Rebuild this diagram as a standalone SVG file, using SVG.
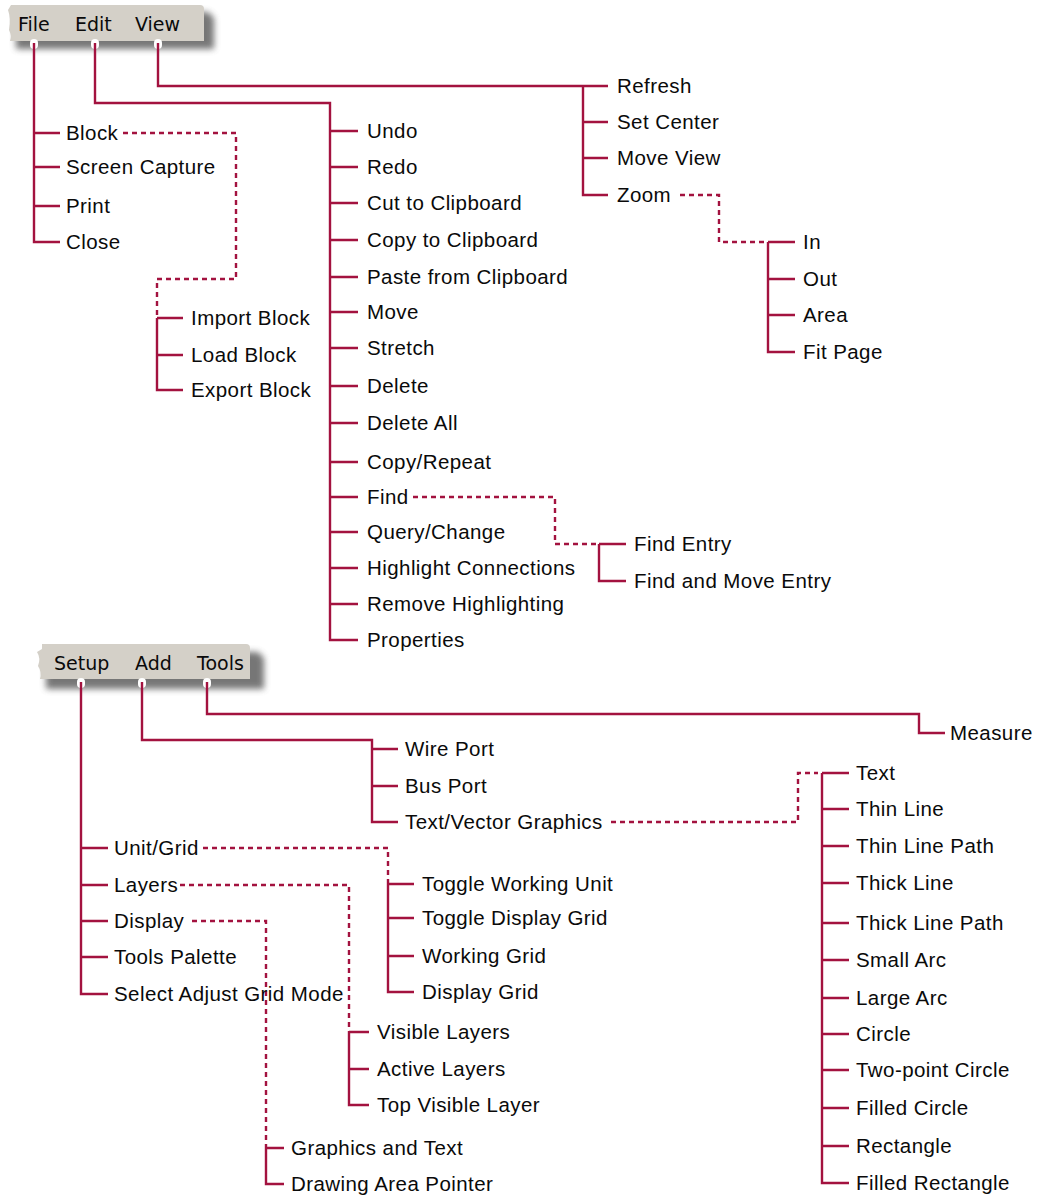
<svg xmlns="http://www.w3.org/2000/svg" width="1042" height="1198" viewBox="0 0 1042 1198">
  <style>
    .lbl { font-family: "Liberation Sans", Arial, sans-serif; font-size: 20.5px; letter-spacing: 0.43px; fill: #0a0a0a; }
    .menu { font-family: "DejaVu Sans", "Liberation Sans", sans-serif; font-size: 19px; fill: #0a0a0a; }
    .bar { fill: #D4D0C8; }
    .ln { fill: none; stroke: #A3123F; stroke-width: 2.4; }
    .dash { fill: none; stroke: #A3123F; stroke-width: 2.4; stroke-dasharray: 5 4; }
    .knob { fill: #fff; }
  </style>
  <defs>
    <filter id="soft" x="-20%" y="-50%" width="140%" height="200%">
      <feGaussianBlur stdDeviation="3"/>
    </filter>
  </defs>
  <rect width="1042" height="1198" fill="#fff"/>

  <!-- menu bar: File / Edit / View -->
  <g id="menu-file-edit-view">
    <path d="M16 12 L208 12 L214 18 L214 49 L16 49 Z" fill="#555" opacity="0.8" filter="url(#soft)"/>
    <path class="bar" d="M11 5 L200 5 Q204 5 204 9 L204 41 L10 41 Q12 36 9 30 Q11 18 8 10 Z"/>
    <text class="menu" x="18" y="31">File</text>
    <text class="menu" x="75" y="31">Edit</text>
    <text class="menu" x="135" y="31">View</text>
  </g>

  <!-- menu bar: Setup / Add / Tools -->
  <g id="menu-setup-add-tools">
    <path d="M46 652 L258 652 L264 658 L264 689 L46 689 Z" fill="#555" opacity="0.8" filter="url(#soft)"/>
    <path class="bar" d="M42 644 L246 644 Q250 644 250 648 L250 679 L40 679 Q42 672 38 666 Q41 658 37 652 L42 649 Z"/>
    <text class="menu" x="54" y="670">Setup</text>
    <text class="menu" x="135" y="670">Add</text>
    <text class="menu" x="197" y="670">Tools</text>
  </g>

  <!-- tree connectors -->
  <g id="connectors">
    <!-- knobs where the lines leave the menu bars -->
    <rect class="knob" x="30" y="39" width="8" height="10" rx="4"/>
    <rect class="knob" x="91" y="39" width="8" height="10" rx="4"/>
    <rect class="knob" x="154" y="39" width="8" height="10" rx="4"/>
    <rect class="knob" x="77" y="678" width="8" height="10" rx="4"/>
    <rect class="knob" x="138" y="678" width="8" height="10" rx="4"/>
    <rect class="knob" x="203" y="678" width="8" height="10" rx="4"/>

    <!-- File -->
    <path class="ln" d="M34 43 V242 H60 M34 133 H60 M34 167 H60 M34 206 H60"/>
    <!-- Block submenu -->
    <path class="dash" d="M123 133 H236 V279 H157 V318"/>
    <path class="ln" d="M157 318 V390 H183 M157 318 H183 M157 355 H183"/>

    <!-- Edit -->
    <path class="ln" d="M95 43 V103 H330 V640 H358"/>
    <path class="ln" d="M330 131 H358 M330 167 H358 M330 203 H358 M330 240 H358 M330 277 H358 M330 312 H358 M330 348 H358 M330 386 H358 M330 423 H358 M330 462 H358 M330 497 H358 M330 532 H358 M330 568 H358 M330 604 H358"/>
    <!-- Find submenu -->
    <path class="dash" d="M413 497 H555 V544 H598"/>
    <path class="ln" d="M599 544 V581 H626 M599 544 H626"/>

    <!-- View -->
    <path class="ln" d="M158 43 V86 H608 M583 86 V195 H608 M583 122 H608 M583 158 H608"/>
    <!-- Zoom submenu -->
    <path class="dash" d="M680 195 H719 V242 H767"/>
    <path class="ln" d="M768 242 V352 H795 M768 242 H795 M768 279 H795 M768 315 H795"/>

    <!-- Tools -->
    <path class="ln" d="M207 682 V714 H919 V733 H945"/>

    <!-- Add -->
    <path class="ln" d="M142 682 V740 H372 V822 H398 M372 749 H398 M372 786 H398"/>
    <!-- Text/Vector Graphics submenu -->
    <path class="dash" d="M611 822 H798 V773 H818"/>
    <path class="ln" d="M822 773 V1183 H849 M822 773 H849 M822 809 H849 M822 846 H849 M822 883 H849 M822 923 H849 M822 960 H849 M822 998 H849 M822 1034 H849 M822 1070 H849 M822 1108 H849 M822 1146 H849"/>

    <!-- Setup -->
    <path class="ln" d="M81 682 V994 H108 M81 848 H108 M81 885 H108 M81 921 H108 M81 957 H108"/>
    <!-- Unit/Grid submenu -->
    <path class="dash" d="M203 848 H388 V884"/>
    <path class="ln" d="M388 884 V992 H414 M388 884 H414 M388 918 H414 M388 956 H414"/>
    <!-- Layers submenu -->
    <path class="dash" d="M180 885 H349 V1032"/>
    <path class="ln" d="M349 1032 V1105 H369 M349 1032 H369 M349 1069 H369"/>
    <!-- Display submenu -->
    <path class="dash" d="M192 921 H266 V1148"/>
    <path class="ln" d="M266 1148 V1184 H284 M266 1148 H284"/>
  </g>

  <!-- File items -->
  <g id="file-block"><text class="lbl" x="66" y="140">Block</text></g>
  <g id="file-screen-capture"><text class="lbl" x="66" y="174">Screen Capture</text></g>
  <g id="file-print"><text class="lbl" x="66" y="213">Print</text></g>
  <g id="file-close"><text class="lbl" x="66" y="249">Close</text></g>
  <g id="block-import"><text class="lbl" x="191" y="325">Import Block</text></g>
  <g id="block-load"><text class="lbl" x="191" y="362">Load Block</text></g>
  <g id="block-export"><text class="lbl" x="191" y="397">Export Block</text></g>

  <!-- Edit items -->
  <g id="edit-undo"><text class="lbl" x="367" y="138">Undo</text></g>
  <g id="edit-redo"><text class="lbl" x="367" y="174">Redo</text></g>
  <g id="edit-cut"><text class="lbl" x="367" y="210">Cut to Clipboard</text></g>
  <g id="edit-copy"><text class="lbl" x="367" y="247">Copy to Clipboard</text></g>
  <g id="edit-paste"><text class="lbl" x="367" y="284">Paste from Clipboard</text></g>
  <g id="edit-move"><text class="lbl" x="367" y="319">Move</text></g>
  <g id="edit-stretch"><text class="lbl" x="367" y="355">Stretch</text></g>
  <g id="edit-delete"><text class="lbl" x="367" y="393">Delete</text></g>
  <g id="edit-delete-all"><text class="lbl" x="367" y="430">Delete All</text></g>
  <g id="edit-copy-repeat"><text class="lbl" x="367" y="469">Copy/Repeat</text></g>
  <g id="edit-find"><text class="lbl" x="367" y="504">Find</text></g>
  <g id="edit-query"><text class="lbl" x="367" y="539">Query/Change</text></g>
  <g id="edit-highlight"><text class="lbl" x="367" y="575">Highlight Connections</text></g>
  <g id="edit-remove-highlight"><text class="lbl" x="367" y="611">Remove Highlighting</text></g>
  <g id="edit-properties"><text class="lbl" x="367" y="647">Properties</text></g>
  <g id="find-entry"><text class="lbl" x="634" y="551">Find Entry</text></g>
  <g id="find-move-entry"><text class="lbl" x="634" y="588">Find and Move Entry</text></g>

  <!-- View items -->
  <g id="view-refresh"><text class="lbl" x="617" y="93">Refresh</text></g>
  <g id="view-set-center"><text class="lbl" x="617" y="129">Set Center</text></g>
  <g id="view-move-view"><text class="lbl" x="617" y="165">Move View</text></g>
  <g id="view-zoom"><text class="lbl" x="617" y="202">Zoom</text></g>
  <g id="zoom-in"><text class="lbl" x="803" y="249">In</text></g>
  <g id="zoom-out"><text class="lbl" x="803" y="286">Out</text></g>
  <g id="zoom-area"><text class="lbl" x="803" y="322">Area</text></g>
  <g id="zoom-fit-page"><text class="lbl" x="803" y="359">Fit Page</text></g>

  <!-- Tools items -->
  <g id="tools-measure"><text class="lbl" x="950" y="740">Measure</text></g>

  <!-- Add items -->
  <g id="add-wire-port"><text class="lbl" x="405" y="756">Wire Port</text></g>
  <g id="add-bus-port"><text class="lbl" x="405" y="793">Bus Port</text></g>
  <g id="add-text-vector"><text class="lbl" x="405" y="829">Text/Vector Graphics</text></g>
  <g id="tv-text"><text class="lbl" x="856" y="780">Text</text></g>
  <g id="tv-thin-line"><text class="lbl" x="856" y="816">Thin Line</text></g>
  <g id="tv-thin-line-path"><text class="lbl" x="856" y="853">Thin Line Path</text></g>
  <g id="tv-thick-line"><text class="lbl" x="856" y="890">Thick Line</text></g>
  <g id="tv-thick-line-path"><text class="lbl" x="856" y="930">Thick Line Path</text></g>
  <g id="tv-small-arc"><text class="lbl" x="856" y="967">Small Arc</text></g>
  <g id="tv-large-arc"><text class="lbl" x="856" y="1005">Large Arc</text></g>
  <g id="tv-circle"><text class="lbl" x="856" y="1041">Circle</text></g>
  <g id="tv-two-point-circle"><text class="lbl" x="856" y="1077">Two-point Circle</text></g>
  <g id="tv-filled-circle"><text class="lbl" x="856" y="1115">Filled Circle</text></g>
  <g id="tv-rectangle"><text class="lbl" x="856" y="1153">Rectangle</text></g>
  <g id="tv-filled-rectangle"><text class="lbl" x="856" y="1190">Filled Rectangle</text></g>

  <!-- Setup items -->
  <g id="setup-unit-grid"><text class="lbl" x="114" y="855">Unit/Grid</text></g>
  <g id="setup-layers"><text class="lbl" x="114" y="892">Layers</text></g>
  <g id="setup-display"><text class="lbl" x="114" y="928">Display</text></g>
  <g id="setup-tools-palette"><text class="lbl" x="114" y="964">Tools Palette</text></g>
  <g id="setup-adjust-grid"><text class="lbl" x="114" y="1001">Select Adjust Grid Mode</text></g>
  <g id="grid-toggle-unit"><text class="lbl" x="422" y="891">Toggle Working Unit</text></g>
  <g id="grid-toggle-display"><text class="lbl" x="422" y="925">Toggle Display Grid</text></g>
  <g id="grid-working"><text class="lbl" x="422" y="963">Working Grid</text></g>
  <g id="grid-display"><text class="lbl" x="422" y="999">Display Grid</text></g>
  <g id="layers-visible"><text class="lbl" x="377" y="1039">Visible Layers</text></g>
  <g id="layers-active"><text class="lbl" x="377" y="1076">Active Layers</text></g>
  <g id="layers-top-visible"><text class="lbl" x="377" y="1112">Top Visible Layer</text></g>
  <g id="display-graphics-text"><text class="lbl" x="291" y="1155">Graphics and Text</text></g>
  <g id="display-pointer"><text class="lbl" x="291" y="1191">Drawing Area Pointer</text></g>
</svg>
